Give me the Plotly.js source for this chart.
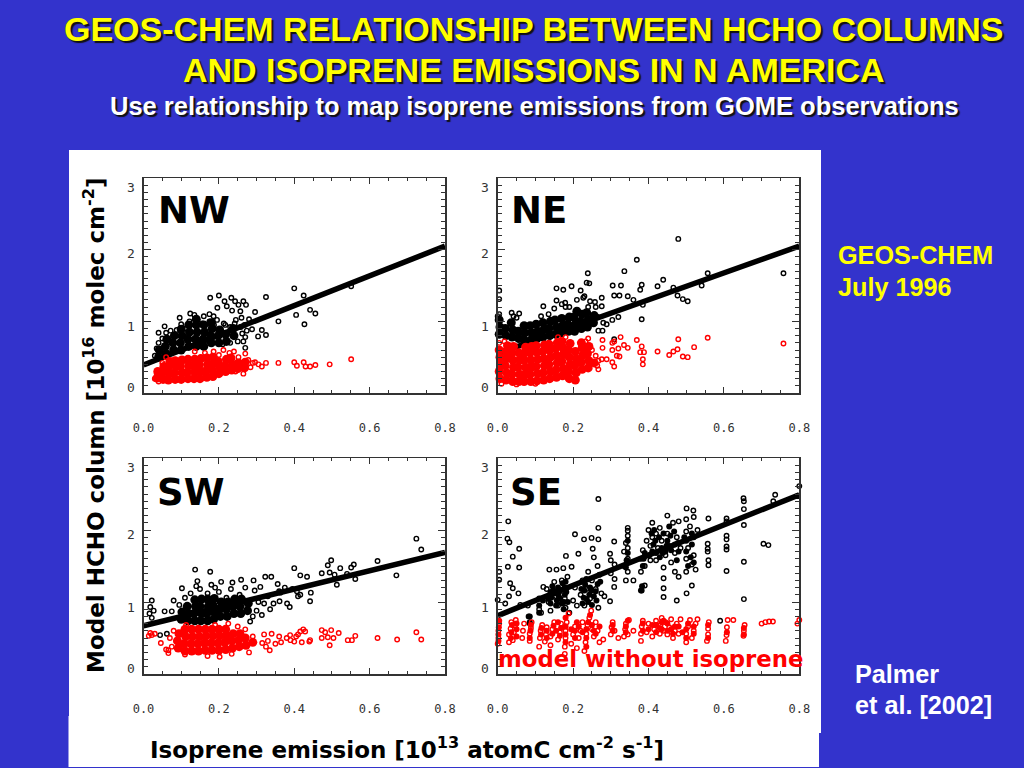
<!DOCTYPE html>
<html><head><meta charset="utf-8">
<script src="https://cdn.plot.ly/plotly-3.0.1.min.js"></script>
<style>html,body{margin:0;padding:0;background:#3333cc}#c{width:1024px;height:768px}</style>
</head><body><div id="c"></div>
<script>
const xTickVals=[0,0.2,0.4,0.6,0.8];
const xTickText=['0.0','0.2','0.4','0.6','0.8'];
const yTickVals=[0,1,2,3];
const yLabelText=['0','1','2','3'];
const yLabelAt=[0.08,0.93,1.94,2.87];
const panelNames=['NW','NE','SW','SE'];
const fitX=[0,0.8];
const nwFit=[0.39,2.05];
const neFit=[0.55,2.05];
const swFit=[0.67,1.69];
const seFit=[0.81,2.49];

const nwBlack=[[.177,1.33],[.2,1.36],[.233,1.33],[.243,1.28],[.252,1.23],[.265,1.28],[.272,1.23],[.215,1.28],[.196,1.19],[.221,1.21],[.235,1.15],[.257,1.14],[.296,1.13],[.325,1.34],[.358,1.0],[.4,1.46],[.425,1.36],[.405,1.09],[.442,1.16],[.456,1.11],[.427,.96],[.551,1.49],[.304,.79],[.325,.81],[.314,.88],[.288,.89],[.27,.63],[.265,.72],[.04,.84],[.056,.93],[.096,1.05],[.124,1.11],[.135,1.09],[.16,1.07],[.175,1.1],[.186,1.07],[.217,.95],[.195,1.02],[.03,.52],[.035,.62],[.04,.7],[.05,.76],[.06,.84],[.072,.87],[.088,.88],[.1,.96],[.112,.9],[.122,1.0],[.143,1.02],[.156,.97],[.175,1.0],[.187,.95],[.213,.97],[.23,.92],[.242,.97],[.258,.92],[.268,.95],[.28,1.03],[.245,1.02],[.26,1.05],[.25,.72],[.27,.78],[.274,.87],[.262,.83],[.23,.7],[.21,.68]];
const nwBlackCore=[[.04,.5],[.042,.6],[.06,.55],[.058,.65],[.062,.75],[.08,.6],[.078,.7],[.082,.8],[.1,.6],[.098,.7],[.102,.8],[.1,.89],[.12,.65],[.118,.75],[.122,.85],[.12,.95],[.14,.65],[.138,.75],[.142,.85],[.14,.95],[.14,1.03],[.16,.65],[.158,.75],[.162,.85],[.16,.95],[.18,.7],[.178,.8],[.182,.9],[.18,.98],[.2,.7],[.198,.8],[.202,.88],[.22,.72],[.218,.82],[.24,.8],[.238,.9]];
const nwRed=[[.296,.43],[.314,.37],[.325,.42],[.358,.42],[.4,.43],[.407,.38],[.425,.43],[.43,.37],[.442,.37],[.456,.39],[.494,.4],[.551,.47],[.212,.6],[.228,.56],[.24,.58],[.27,.55],[.252,.5],[.278,.46],[.29,.42],[.305,.4],[.284,.36],[.265,.27],[.244,.3],[.2,.53],[.186,.58],[.163,.56],[.136,.58],[.06,.5],[.05,.42],[.035,.28],[.03,.2],[.04,.16]];
const nwRedCore=[[.036,.21],[.038,.3],[.052,.19],[.05,.28],[.054,.37],[.066,.18],[.068,.27],[.066,.36],[.07,.44],[.084,.19],[.082,.28],[.086,.37],[.084,.45],[.1,.19],[.102,.28],[.098,.37],[.102,.46],[.118,.2],[.116,.29],[.12,.38],[.118,.47],[.134,.2],[.136,.29],[.132,.38],[.136,.47],[.15,.2],[.152,.3],[.148,.39],[.152,.48],[.168,.22],[.166,.31],[.17,.4],[.168,.49],[.184,.23],[.182,.32],[.186,.41],[.184,.5],[.2,.27],[.202,.36],[.198,.44],[.218,.3],[.216,.38],[.22,.47],[.234,.32],[.236,.4],[.232,.49],[.25,.34],[.252,.42],[.268,.35],[.27,.43]];

const neBlack=[[.479,2.15],[.369,1.86],[.239,1.67],[.336,1.7],[.236,1.54],[.243,1.53],[.305,1.5],[.327,1.5],[.382,1.51],[.378,1.44],[.439,1.58],[.424,1.49],[.466,1.47],[.557,1.67],[.541,1.5],[.758,1.67],[.309,1.36],[.323,1.36],[.345,1.35],[.36,1.3],[.385,1.23],[.477,1.36],[.491,1.31],[.504,1.28],[.382,1.03],[.32,1.06],[.304,1.02],[.289,.96],[.278,.87],[.267,.87],[.309,.75],[.276,1.33],[.276,1.21],[.28,.98],[.004,1.43],[.004,1.31],[0,1.07],[.037,1.12],[.057,1.11],[.121,1.21],[.156,1.46],[.174,1.44],[.196,1.49],[.22,1.43],[.156,1.29],[.179,1.26],[.227,1.33],[.258,1.27],[.115,1.07],[.135,1.1],[.15,1.18],[.17,1.24],[.19,1.2],[.21,1.3],[.23,1.35],[.24,1.2],[.245,1.28],[.26,1.2],[.265,1.06],[.18,1.2],[.004,1.1],[.042,1.07],[.05,1.05]];
const neBlackCore=[[.004,.82],[.006,.92],[.004,1.02],[.022,.8],[.02,.9],[.038,.78],[.04,.88],[.036,.98],[.056,.76],[.054,.86],[.07,.74],[.072,.84],[.07,.94],[.088,.74],[.09,.84],[.086,.94],[.104,.76],[.106,.86],[.102,.96],[.12,.78],[.122,.88],[.12,.98],[.138,.8],[.136,.9],[.14,1.0],[.154,.82],[.156,.92],[.152,1.02],[.17,.84],[.172,.94],[.17,1.04],[.188,.86],[.186,.96],[.19,1.06],[.204,.86],[.206,.96],[.202,1.06],[.21,1.14],[.222,.9],[.22,1.0],[.224,1.1],[.238,.92],[.24,1.02],[.236,1.12],[.254,.98],[.256,1.08]];
const neRed=[[.758,.69],[.557,.77],[.521,.64],[.504,.5],[.491,.51],[.479,.75],[.477,.61],[.466,.58],[.455,.53],[.424,.58],[.385,.47],[.385,.4],[.388,.57],[.378,.57],[.382,.65],[.369,.74],[.345,.63],[.335,.67],[.326,.78],[.32,.62],[.309,.72],[.304,.7],[.304,.6],[.316,.52],[.323,.51],[.309,.37],[.304,.43],[.278,.74],[.278,.63],[.276,.47],[.289,.47],[.267,.33],[.267,.45],[.01,.13],[.05,.12],[.1,.13],[.004,.7],[.018,.72],[.18,.78],[.16,.78],[.233,.72],[.24,.76],[.25,.6],[.26,.52],[.264,.38]];
const neRedCore=[[.006,.2],[.004,.3],[.008,.4],[.006,.5],[.004,.6],[.022,.18],[.024,.28],[.02,.38],[.024,.48],[.022,.58],[.026,.66],[.04,.16],[.038,.26],[.042,.36],[.04,.46],[.038,.56],[.042,.65],[.056,.16],[.058,.26],[.054,.36],[.058,.46],[.056,.56],[.07,.16],[.072,.26],[.074,.36],[.07,.46],[.072,.56],[.074,.64],[.088,.16],[.086,.26],[.09,.36],[.088,.46],[.086,.56],[.09,.65],[.104,.17],[.106,.27],[.102,.37],[.106,.47],[.104,.57],[.102,.66],[.122,.18],[.12,.28],[.124,.38],[.122,.48],[.12,.58],[.124,.67],[.138,.2],[.14,.3],[.136,.4],[.14,.5],[.138,.6],[.136,.68],[.156,.22],[.154,.32],[.158,.42],[.156,.52],[.154,.62],[.158,.7],[.172,.24],[.174,.34],[.17,.44],[.174,.54],[.172,.64],[.17,.72],[.19,.2],[.188,.3],[.192,.4],[.19,.5],[.188,.6],[.192,.69],[.206,.18],[.208,.28],[.204,.38],[.208,.48],[.206,.58],[.224,.33],[.222,.43],[.226,.53],[.224,.63],[.222,.7],[.24,.35],[.242,.45],[.238,.55],[.242,.65],[.256,.42]];

const swBlack=[[.724,1.88],[.737,1.73],[.671,1.37],[.621,1.57],[.558,1.52],[.551,1.48],[.522,1.47],[.498,1.58],[.489,1.51],[.473,1.4],[.494,1.41],[.507,1.38],[.513,1.24],[.54,1.39],[.562,1.32],[.442,1.01],[.444,1.13],[.4,1.47],[.416,1.37],[.434,1.35],[.323,1.35],[.339,1.35],[.356,1.25],[.361,1.01],[.381,.98],[.388,.93],[.363,1.13],[.407,1.15],[.416,1.1],[.137,1.45],[.177,1.42],[.102,1.19],[.143,1.29],[.206,1.28],[.236,1.27],[.259,1.31],[.292,1.3],[.31,1.21],[.022,1.02],[.018,.93],[.016,.84],[.027,.88],[.022,.78],[.056,.87],[.044,.54],[.062,.56],[.336,.9],[.314,.82],[.283,.73],[.075,.87],[.08,1.02],[.095,.96],[.11,1.06],[.125,1.12],[.14,1.22],[.17,1.12],[.18,1.24],[.2,1.14],[.22,1.06],[.232,1.18],[.255,1.1],[.27,1.2],[.295,1.16],[.305,1.0],[.32,.98],[.33,1.08],[.345,.98],[.36,1.15],[.375,1.2],[.395,1.18],[.41,1.08],[.15,1.18],[.19,1.2],[.3,.88],[.29,.8]];
const swBlackCore=[[.1,.76],[.102,.86],[.118,.74],[.12,.84],[.116,.94],[.136,.74],[.134,.84],[.138,.94],[.136,1.03],[.152,.74],[.154,.84],[.15,.94],[.154,1.04],[.17,.74],[.168,.84],[.172,.94],[.17,1.04],[.186,.76],[.188,.86],[.184,.96],[.188,1.05],[.204,.8],[.202,.9],[.206,1.0],[.222,.8],[.22,.9],[.224,1.0],[.24,.84],[.238,.94],[.242,1.04],[.258,.84],[.256,.94],[.26,1.04],[.276,.88],[.278,.98]];
const swRed=[[.724,.58],[.737,.48],[.673,.48],[.621,.5],[.562,.53],[.553,.47],[.542,.47],[.518,.57],[.498,.61],[.504,.5],[.489,.51],[.473,.5],[.473,.61],[.482,.58],[.494,.4],[.442,.47],[.429,.59],[.424,.62],[.416,.59],[.41,.55],[.4,.45],[.389,.54],[.44,.45],[.38,.5],[.39,.47],[.405,.52],[.42,.44],[.36,.52],[.365,.44],[.35,.42],[.34,.56],[.33,.46],[.32,.55],[.325,.38],[.335,.33],[.315,.43],[.018,.57],[.022,.54],[.014,.53],[.03,.56],[.046,.43],[.066,.33],[.066,.29],[.06,.34],[.07,.5],[.075,.38],[.08,.6],[.11,.27],[.113,.68],[.17,.25],[.202,.24],[.234,.28],[.19,.68],[.225,.7],[.25,.66],[.28,.3],[.27,.62],[.29,.52]];
const swRedCore=[[.092,.36],[.09,.46],[.094,.56],[.11,.32],[.108,.42],[.112,.52],[.11,.62],[.128,.32],[.126,.42],[.13,.52],[.128,.62],[.146,.32],[.144,.42],[.148,.52],[.146,.62],[.164,.33],[.162,.43],[.166,.53],[.164,.62],[.182,.33],[.18,.43],[.184,.53],[.182,.62],[.2,.33],[.198,.43],[.202,.53],[.2,.62],[.218,.34],[.216,.44],[.22,.54],[.218,.62],[.236,.36],[.234,.46],[.238,.56],[.254,.38],[.252,.47],[.256,.56],[.272,.4],[.27,.5],[.29,.44]];

const seBlack=[[.267,2.43],[.028,2.12],[.026,1.88],[.031,1.83],[.057,1.74],[.04,1.63],[.027,1.49],[.057,1.48],[.004,1.42],[.004,1.31],[.033,1.26],[.04,1.19],[.205,1.94],[.229,1.87],[.249,1.89],[.267,1.87],[.267,2.03],[.252,1.74],[.214,1.67],[.181,1.64],[.137,1.45],[.156,1.45],[.174,1.47],[.196,1.49],[.121,1.21],[.652,2.44],[.653,2.4],[.653,2.29],[.653,2.07],[.653,1.56],[.653,1.04],[.607,2.12],[.607,2.16],[.607,1.92],[.607,1.87],[.607,1.77],[.607,1.73],[.607,1.43],[.59,.74],[.559,2.16],[.557,1.81],[.557,1.74],[.557,1.7],[.559,1.58],[.559,1.51],[.705,1.81],[.718,1.79],[.736,2.49],[.731,2.4],[.8,2.61],[.795,2.47],[.501,2.3],[.519,2.27],[.475,1.02],[.501,1.12],[.515,1.23],[.44,1.07],[.44,1.19],[.44,1.33],[.382,1.16],[.39,1.23],[.345,2.03],[.345,1.99],[.34,1.3],[.36,1.3],[.309,1.84],[.298,1.67],[.309,1.21],[.298,1.01],[.283,1.08],[.267,.92],[0,1.03],[.02,.98],[.03,1.08],[.055,1.12],[.06,.96],[.08,.95],[.082,.8],[.085,.7],[.11,1.05],[.11,.9],[.115,.85],[.13,1.18],[.135,1.0],[.14,1.1],[.14,.88],[.15,1.28],[.155,1.08],[.16,.95],[.17,1.3],[.175,1.18],[.178,1.05],[.18,.92],[.185,1.35],[.19,.85],[.2,1.02],[.205,1.2],[.21,.95],[.22,1.1],[.225,1.3],[.23,.95],[.235,1.18],[.24,1.42],[.245,1.05],[.25,1.3],[.255,1.62],[.26,1.18],[.265,1.5],[.27,1.38],[.275,1.12],[.3,1.4],[.3,1.58],[.31,1.32],[.31,1.52],[.335,1.5],[.335,1.7],[.34,1.82],[.345,1.42],[.345,1.6],[.345,1.75],[.345,1.92],[.38,1.42],[.38,1.6],[.385,1.72],[.39,1.5],[.395,1.85],[.4,2.0],[.405,1.58],[.405,1.78],[.41,2.1],[.41,1.9],[.42,1.95],[.42,1.58],[.425,1.75],[.43,2.03],[.435,1.85],[.44,1.48],[.445,1.65],[.45,2.2],[.45,1.95],[.455,1.78],[.46,1.55],[.465,2.1],[.47,1.42],[.47,1.68],[.475,1.9],[.48,2.12],[.48,1.35],[.485,1.75],[.5,2.15],[.5,1.98],[.5,1.6],[.5,1.42],[.505,1.75],[.51,2.05],[.515,1.52],[.52,2.18],[.52,1.9],[.52,1.65],[.525,1.45],[.53,2.0]];
const seBlackCore=[[.14,.98],[.142,1.06],[.14,1.14],[.145,1.22],[.155,.95],[.157,1.02],[.155,1.12],[.16,1.2],[.165,1.05],[.165,1.15],[.17,.98],[.175,.9],[.176,1.0],[.178,1.1],[.178,1.2],[.18,1.28],[.225,.98],[.228,1.06],[.23,1.16],[.232,1.24],[.235,1.32],[.24,1.0],[.243,1.1],[.245,1.2],[.25,.96],[.255,1.08],[.26,1.15],[.265,1.25],[.11,.85],[.11,.95],[.12,1.02],[.085,.72],[.085,.8],[.34,1.48],[.342,1.58],[.345,1.68],[.345,1.85],[.385,1.5],[.387,1.6],[.39,1.68],[.41,1.7],[.413,1.8],[.415,2.0],[.42,1.68],[.43,1.62],[.435,1.75],[.44,1.95],[.445,1.7],[.45,1.85],[.455,2.05],[.46,1.72],[.47,1.8],[.475,1.58],[.48,1.7],[.5,1.7],[.5,1.85],[.505,1.5],[.515,1.95],[.515,1.8],[.52,1.55],[.38,1.16],[.383,1.22],[.135,1.04],[.148,1.16],[.162,1.08],[.172,1.26],[.182,1.14],[.186,1.0],[.222,1.18],[.236,1.04],[.248,1.16],[.262,1.02],[.272,1.28],[.402,1.65],[.408,1.95],[.418,1.85],[.428,1.9],[.438,1.68],[.448,1.78],[.458,1.92],[.468,1.98],[.478,1.82],[.495,1.9],[.512,1.62]];
const seRed=[[0,.42],[.002,.5],[.002,.6],[.004,.7],[.03,.44],[.03,.55],[.034,.63],[.036,.72],[.04,.47],[.043,.58],[.046,.67],[.048,.75],[.065,.5],[.067,.6],[.07,.7],[.085,.46],[.085,.56],[.088,.64],[.09,.72],[.11,.38],[.112,.5],[.114,.6],[.118,.68],[.125,.45],[.128,.55],[.13,.65],[.14,.4],[.14,.52],[.145,.62],[.15,.72],[.16,.48],[.165,.58],[.168,.7],[.178,.28],[.178,.38],[.18,.5],[.18,.6],[.183,.72],[.188,.84],[.195,.42],[.2,.55],[.205,.66],[.21,.36],[.215,.5],[.22,.6],[.225,.72],[.23,.32],[.233,.44],[.235,.56],[.238,.68],[.243,.78],[.248,.88],[.25,.62],[.255,.52],[.26,.72],[.265,.6],[.27,.44],[.28,.48],[.3,.55],[.302,.65],[.305,.72],[.31,.6],[.32,.5],[.335,.52],[.338,.62],[.34,.7],[.345,.55],[.348,.75],[.36,.6],[.38,.46],[.38,.56],[.382,.66],[.385,.74],[.395,.58],[.4,.7],[.41,.52],[.415,.62],[.42,.74],[.43,.56],[.432,.68],[.435,.78],[.44,.6],[.445,.72],[.45,.55],[.455,.65],[.46,.76],[.465,.5],[.47,.6],[.475,.7],[.48,.56],[.485,.76],[.5,.44],[.5,.56],[.505,.66],[.51,.75],[.515,.5],[.52,.6],[.525,.7],[.53,.76],[.555,.46],[.558,.55],[.558,.63],[.56,.72],[.605,.46],[.607,.54],[.608,.65],[.61,.75],[.625,.75],[.652,.53],[.653,.6],[.655,.68],[.7,.7],[.71,.72],[.72,.73],[.73,.73],[.795,.7],[.8,.75]];
const seRedCore=[[.002,.46],[.002,.55],[.003,.65],[.004,.74],[.035,.5],[.036,.58],[.038,.68],[.05,.52],[.05,.62],[.05,.7],[.085,.5],[.087,.6],[.088,.68],[.115,.55],[.116,.64],[.13,.5],[.13,.6],[.145,.56],[.148,.67],[.165,.53],[.168,.64],[.18,.44],[.18,.55],[.18,.66],[.18,.78],[.205,.5],[.205,.6],[.21,.72],[.235,.38],[.235,.5],[.235,.62],[.24,.72],[.245,.82],[.25,.68],[.255,.6],[.305,.6],[.305,.68],[.34,.58],[.34,.66],[.345,.74],[.385,.6],[.385,.7],[.42,.58],[.42,.68],[.435,.62],[.435,.72],[.45,.6],[.45,.7],[.465,.56],[.47,.66],[.5,.5],[.5,.62],[.505,.7],[.52,.56],[.52,.66],[.558,.5],[.558,.68],[.608,.58],[.653,.55],[.653,.64],[.155,.6],[.16,.72],[.195,.62],[.215,.66],[.225,.58],[.26,.56],[.27,.66],[.4,.62],[.41,.68],[.43,.64],[.44,.74],[.46,.62],[.48,.66],[.49,.58]];

const seriesByPanel=[[nwBlack,nwRed,nwFit,nwBlackCore,nwRedCore],[neBlack,neRed,neFit,neBlackCore,neRedCore],[swBlack,swRed,swFit,swBlackCore,swRedCore],[seBlack,seRed,seFit,seBlackCore,seRedCore]];

const W=1024,H=768;
const boxes=[[143.5,445,178,393],[497.7,799.3,178,393],[143.5,445,458,674],[497.7,799.3,458,674]];
const nameAt=[[157,211],[510,211],[156,492],[509,492]];
const coreSize=[9,9,9,6];
const labelFont='"DejaVu Sans"';
const sansBold='"Liberation Sans"';
const layout={width:W,height:H,margin:{l:0,r:0,t:0,b:0},paper_bgcolor:'#3333cc',plot_bgcolor:'#ffffff',showlegend:false,
 shapes:[
  {type:'rect',xref:'paper',yref:'paper',x0:69/W,x1:821/W,y0:1-733/H,y1:1-150/H,fillcolor:'#fff',line:{width:0},layer:'below'},
  {type:'rect',xref:'paper',yref:'paper',x0:68.5/W,x1:819/W,y0:1-767/H,y1:1-716/H,fillcolor:'#fff',line:{width:0},layer:'below'}
 ],annotations:[]};
function note(text,px,py,size,color,opt){
 layout.annotations.push(Object.assign({text:text,xref:'paper',yref:'paper',x:px/W,y:1-py/H,showarrow:false,xanchor:'center',yanchor:'middle',borderpad:0,
  font:{family:sansBold,size:size,color:color,weight:700}},opt||{}));
}
const traces=[];
function pts(list,xa,ya,symbol,size,color,lw){
 traces.push({type:'scatter',mode:'markers',xaxis:xa,yaxis:ya,x:list.map(p=>p[0]),y:list.map(p=>p[1]),cliponaxis:false,marker:{symbol:symbol,size:size,color:color,line:{width:lw,color:color}},hoverinfo:'skip'});
}
boxes.forEach((b,i)=>{
 const n=i===0?'':String(i+1);
 layout['xaxis'+n]={domain:[b[0]/W,b[1]/W],range:[0,0.8],anchor:'y'+n,tickmode:'array',tickvals:xTickVals,ticktext:xTickText,ticks:'inside',ticklen:6,tickwidth:1,tickcolor:'#333',
  minor:{tickmode:'linear',tick0:0,dtick:0.05,ticks:'inside',ticklen:3,tickwidth:1,tickcolor:'#333',showgrid:false},
  showline:true,mirror:'allticks',linecolor:'#333',linewidth:1.5,showgrid:false,zeroline:false,tickfont:{family:'"DejaVu Sans Mono"',size:12,color:'#333'},ticklabelstandoff:23,tickangle:0};
 layout['yaxis'+n]={domain:[1-b[3]/H,1-b[2]/H],range:[0,3],anchor:'x'+n,tickmode:'array',tickvals:yTickVals,ticktext:yLabelText,showticklabels:false,ticks:'inside',ticklen:7,tickwidth:1,tickcolor:'#333',
  minor:{tickmode:'linear',tick0:0,dtick:0.1,ticks:'inside',ticklen:4,tickwidth:1,tickcolor:'#333',showgrid:false},
  showline:true,mirror:'allticks',linecolor:'#333',linewidth:1.5,showgrid:false,zeroline:false};
 const s=seriesByPanel[i];
 const xa='x'+n,ya='y'+n;
 pts(s[0],xa,ya,'circle-open',4.5,'#000',1.4);
 pts(s[3],xa,ya,'circle',coreSize[i],'#000',0);
 traces.push({type:'scatter',mode:'lines',xaxis:xa,yaxis:ya,x:fitX,y:s[2],line:{color:'#000',width:5.5},hoverinfo:'skip'});
 pts(s[1],xa,ya,'circle-open',4.5,'#f00',1.4);
 pts(s[4],xa,ya,'circle',coreSize[i],'#f00',0);
 yLabelText.forEach((t,k)=>{
  layout.annotations.push({text:t,xref:'paper',yref:ya,x:(b[0]-12.5)/W,y:yLabelAt[k],showarrow:false,xanchor:'center',yanchor:'middle',borderpad:0,font:{family:'"DejaVu Sans Mono"',size:13,color:'#333'}});
 });
 note(panelNames[i],nameAt[i][0],nameAt[i][1],37,'#000',{xanchor:'left',font:{family:labelFont,size:37,color:'#000',weight:700}});
});
const shadow='2px 2px 1px #111';
note('GEOS-CHEM RELATIONSHIP BETWEEN HCHO COLUMNS',533,29,34,'#ffff00',{font:{family:sansBold,size:34,color:'#ffff00',weight:700,shadow:shadow}});
note('AND ISOPRENE EMISSIONS IN N AMERICA',533,70,34,'#ffff00',{font:{family:sansBold,size:34,color:'#ffff00',weight:700,shadow:shadow}});
note('Use relationship to map isoprene emissions from GOME observations',534,106,25.5,'#ffffff',{font:{family:sansBold,size:25.5,color:'#fff',weight:700,shadow:shadow}});
note('GEOS-CHEM',837,255,25.2,'#ffff00',{xanchor:'left'});
note('July 1996',837,287,25.2,'#ffff00',{xanchor:'left'});
note('Palmer',854,674,25.2,'#ffffff',{xanchor:'left'});
note('et al. [2002]',854,705,25.2,'#ffffff',{xanchor:'left'});
note('model without isoprene',650,659,22.8,'#f00',{font:{family:labelFont,size:22.8,color:'#f00',weight:700}});
note('Model HCHO column [10<sup>16</sup> molec cm<sup>-2</sup>]',94,426,23,'#000',{textangle:-90,font:{family:labelFont,size:23,color:'#000',weight:700}});
note('Isoprene emission [10<sup>13</sup> atomC cm<sup>-2</sup> s<sup>-1</sup>]',406.5,748,23,'#000',{font:{family:labelFont,size:23,color:'#000',weight:700}});
Plotly.newPlot('c',traces,layout,{displayModeBar:false,staticPlot:true});
</script></body></html>
